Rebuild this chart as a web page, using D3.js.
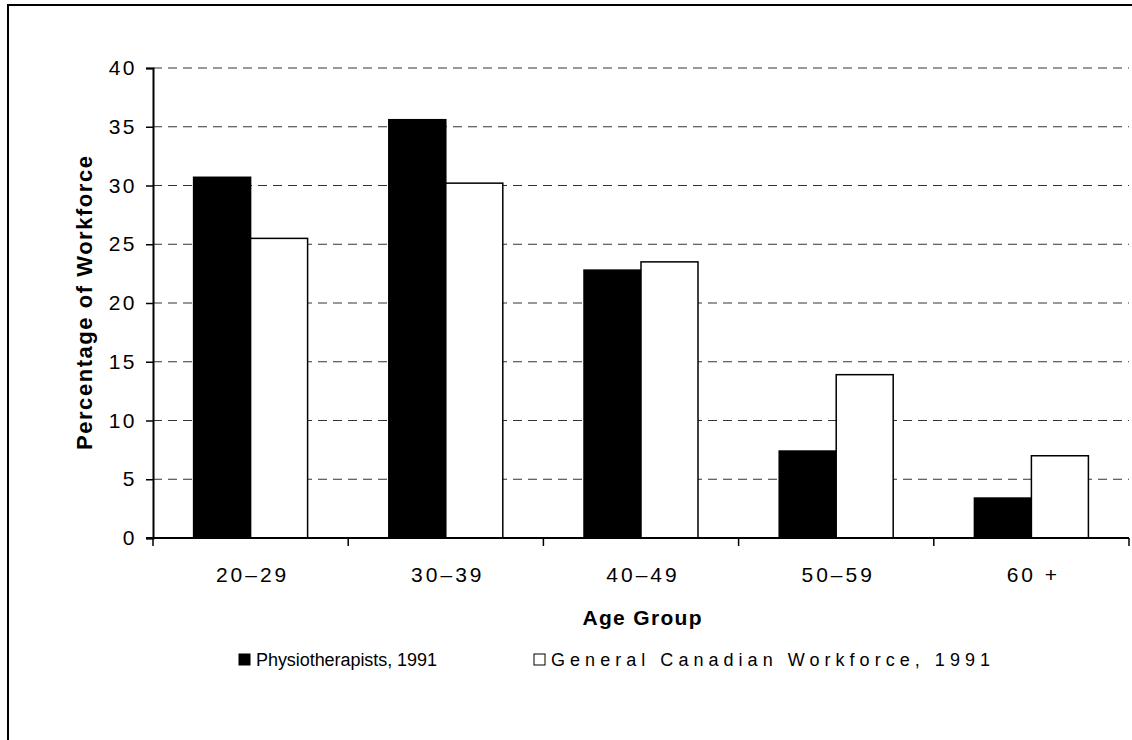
<!DOCTYPE html>
<html>
  <head>
    <title>Age distribution</title>
    <script src="https://d3js.org/d3.v7.min.js"></script>
    <style>
      body { margin: 0; background: #fff; }
      text { font-family: "Liberation Sans", Arial, sans-serif; fill: #000; }
    </style>
  </head>
  <body>
  </body>
</html>

<script>
  // data
  var ageGroups = ["20\u201329", "30\u201339", "40\u201349", "50\u201359", "60 +"];
  var seriesNames = ["Physiotherapists, 1991", "General Canadian Workforce, 1991"];
  var physio = [30.7, 35.6, 22.8, 7.4, 3.4];
  var general = [25.5, 30.2, 23.5, 13.9, 7.0];
  var yTicks = [0, 5, 10, 15, 20, 25, 30, 35, 40];

  var W = 1132, H = 740;
  var plotL = 153, plotR = 1129, plotT = 68, plotB = 538;

  var svg = d3.select("body").append("svg")
              .attr("width", W)
              .attr("height", H);

  // outer frame
  svg.append("rect")
     .attr("x", 8).attr("y", 5)
     .attr("width", 1140).attr("height", 760)
     .attr("fill", "none")
     .attr("stroke", "#000")
     .attr("stroke-width", 2);

  var x0 = d3.scaleBand()
             .domain(ageGroups)
             .range([plotL, plotR])
             .paddingInner(0.416)
             .paddingOuter(0.208);

  var x1 = d3.scaleBand()
             .domain([0, 1])
             .range([0, x0.bandwidth()]);

  var y = d3.scaleLinear()
            .domain([0, 40])
            .range([plotB, plotT]);

  // dashed grid
  svg.append("g")
     .selectAll("line")
     .data(yTicks.slice(1))
     .enter()
     .append("line")
     .attr("x1", plotL)
     .attr("x2", plotR)
     .attr("y1", function(d) { return y(d); })
     .attr("y2", function(d) { return y(d); })
     .attr("stroke", "#333")
     .attr("stroke-width", 1)
     .attr("stroke-dasharray", "9,6");

  // bars
  var rows = ageGroups.map(function(g, i) { return {group: g, vals: [physio[i], general[i]]}; });

  var groups = svg.append("g")
                  .selectAll("g")
                  .data(rows)
                  .enter()
                  .append("g")
                  .attr("transform", function(d) { return "translate(" + x0(d.group) + ",0)"; });

  groups.selectAll("rect")
        .data(function(d) { return d.vals.map(function(v, k) { return {k: k, v: v}; }); })
        .enter()
        .append("rect")
        .attr("x", function(d) { return x1(d.k); })
        .attr("y", function(d) { return y(d.v); })
        .attr("width", x1.bandwidth())
        .attr("height", function(d) { return y(0) - y(d.v); })
        .attr("fill", function(d) { return d.k === 0 ? "#000" : "#fff"; })
        .attr("stroke", "#000")
        .attr("stroke-width", 1.5);

  // y axis
  var yAxis = svg.append("g")
                 .attr("transform", "translate(" + plotL + ",0)")
                 .call(d3.axisLeft(y).tickValues(yTicks).tickSize(7).tickPadding(9));
  yAxis.select(".domain").attr("stroke-width", 2);
  yAxis.selectAll(".tick line").attr("stroke-width", 1.5);
  yAxis.selectAll("text")
       .attr("font-family", null)
       .attr("font-size", null)
       .style("font-size", "21px")
       .style("letter-spacing", "2.5px");

  // x axis, ticks on category boundaries
  var xAxis = svg.append("g")
                 .attr("transform", "translate(0," + plotB + ")");
  xAxis.append("line")
       .attr("x1", plotL - 7).attr("x2", plotR)
       .attr("y1", 0).attr("y2", 0)
       .attr("stroke", "#000").attr("stroke-width", 2);
  var bounds = ageGroups.map(function(g) { return x0(g) - x0.step() * 0.208; }).concat([plotR]);
  xAxis.selectAll(".bt")
       .data(bounds)
       .enter()
       .append("line")
       .attr("x1", function(d) { return d; })
       .attr("x2", function(d) { return d; })
       .attr("y1", 0).attr("y2", 8)
       .attr("stroke", "#000").attr("stroke-width", 1.5);
  xAxis.selectAll(".lab")
       .data(ageGroups)
       .enter()
       .append("text")
       .attr("x", function(d) { return x0(d) + x0.bandwidth() / 2 + 2; })
       .attr("y", 44)
       .attr("text-anchor", "middle")
       .style("font-size", "21px")
       .style("letter-spacing", "3px")
       .text(function(d) { return d; });

  // axis titles
  svg.append("text")
     .attr("transform", "translate(92,303) rotate(-90)")
     .attr("text-anchor", "middle")
     .attr("textLength", 294)
     .attr("lengthAdjust", "spacing")
     .style("font-size", "22px")
     .style("font-weight", "bold")
     .text("Percentage of Workforce");

  svg.append("text")
     .attr("x", 642)
     .attr("y", 625)
     .attr("text-anchor", "middle")
     .attr("textLength", 119)
     .attr("lengthAdjust", "spacing")
     .style("font-size", "21px")
     .style("font-weight", "bold")
     .text("Age Group");

  // legend
  var legendX = [239, 534];
  var legendLen = [181, 439];
  var legend = svg.append("g")
                  .selectAll("g")
                  .data(seriesNames)
                  .enter()
                  .append("g")
                  .attr("transform", function(d, i) { return "translate(" + legendX[i] + ",660)"; });
  legend.append("rect")
        .attr("x", 0).attr("y", -6)
        .attr("width", 11).attr("height", 11)
        .attr("fill", function(d, i) { return i === 0 ? "#000" : "#fff"; })
        .attr("stroke", "#000")
        .attr("stroke-width", 1);
  legend.append("text")
        .attr("x", 17)
        .attr("y", 6)
        .attr("textLength", function(d, i) { return legendLen[i]; })
        .attr("lengthAdjust", "spacing")
        .style("font-size", "18px")
        .text(function(d) { return d; });
</script>
